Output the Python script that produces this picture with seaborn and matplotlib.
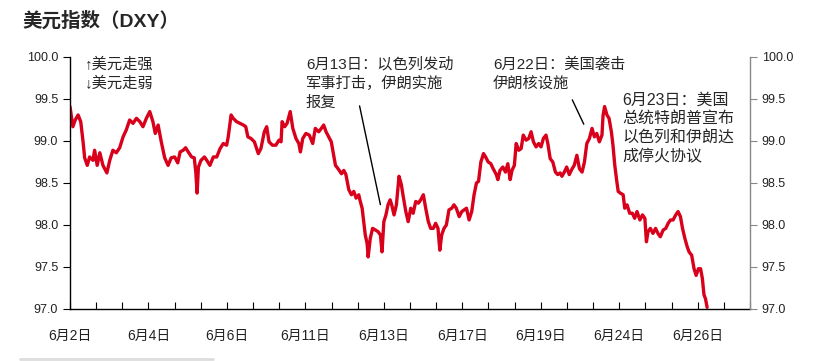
import numpy as np
import pandas as pd
import matplotlib
matplotlib.use("Agg")
import matplotlib.pyplot as plt
from matplotlib.lines import Line2D
import seaborn as sns

# position along the category axis (one unit = one minor tick) and DXY level
t = [0.00, 0.11, 0.20, 0.31, 0.41, 0.50, 0.56, 0.66, 0.75, 0.88,
     0.94, 1.04, 1.14, 1.26, 1.41, 1.52, 1.64, 1.77, 1.90, 2.03,
     2.15, 2.28, 2.41, 2.54, 2.67, 2.79, 2.92, 3.05, 3.17, 3.26,
     3.37, 3.49, 3.62, 3.75, 3.87, 4.00,
     4.12, 4.21, 4.33, 4.42, 4.52, 4.65, 4.75, 4.81, 4.86, 4.91,
     5.01, 5.14, 5.23, 5.35, 5.48, 5.61, 5.74, 5.86, 5.99, 6.05,
     6.16, 6.24, 6.37, 6.50, 6.63, 6.72, 6.80, 6.92, 7.05, 7.20,
     7.30, 7.43, 7.52, 7.61, 7.74, 7.87, 7.99, 8.07,
     8.11, 8.21, 8.30, 8.42, 8.52, 8.64, 8.75, 8.81, 8.90, 9.02,
     9.15, 9.28, 9.38, 9.51, 9.61, 9.70, 9.79, 9.89, 9.99, 10.08,
     10.15, 10.25, 10.38, 10.47, 10.55, 10.66, 10.76, 10.85, 10.94, 11.04,
     11.10, 11.17, 11.23, 11.29, 11.36, 11.40, 11.48, 11.57, 11.68, 11.78,
     11.87, 11.93, 12.00, 12.08, 12.16, 12.24,
     12.30, 12.39, 12.48, 12.58, 12.67, 12.73, 12.84, 12.93, 13.03, 13.12,
     13.22, 13.32, 13.41, 13.51, 13.60, 13.70, 13.79, 13.89, 13.98, 14.07,
     14.14, 14.21, 14.30, 14.39, 14.49, 14.60, 14.68, 14.77, 14.88, 14.98,
     15.07, 15.16, 15.26, 15.36, 15.45, 15.54, 15.62, 15.71, 15.81, 15.89,
     15.99, 16.09, 16.18, 16.30,
     16.36, 16.44, 16.55, 16.65, 16.74, 16.83, 16.90, 16.99, 17.06, 17.16,
     17.25, 17.33, 17.44, 17.54, 17.63, 17.72, 17.82, 17.92, 18.01, 18.10,
     18.20, 18.27, 18.36, 18.46, 18.56, 18.65, 18.74, 18.81, 18.90, 18.99,
     19.09, 19.20, 19.28, 19.38, 19.48, 19.58, 19.67, 19.76, 19.86, 19.96,
     20.05, 20.14, 20.24, 20.34,
     20.38, 20.44, 20.53, 20.61, 20.70, 20.76, 20.83, 20.89, 20.96, 21.04,
     21.15, 21.21, 21.30, 21.40, 21.50, 21.59, 21.68, 21.79, 21.89, 21.98,
     22.04, 22.10, 22.19, 22.29, 22.39, 22.48, 22.57, 22.68, 22.78, 22.87,
     22.96, 23.06, 23.16, 23.25, 23.34, 23.42, 23.51, 23.60, 23.67, 23.77,
     23.86, 23.94, 24.03, 24.11, 24.18, 24.24, 24.30, 24.36]

dxy = [99.41, 99.17, 99.25, 99.31, 99.23, 98.99, 98.80, 98.71, 98.81, 98.77,
       98.89, 98.71, 98.86, 98.71, 98.62, 98.77, 98.89, 98.86, 98.92, 99.05,
       99.13, 99.25, 99.21, 99.27, 99.23, 99.17, 99.27, 99.35, 99.23, 99.09,
       99.19, 98.99, 98.80, 98.71, 98.80, 98.81,
       98.74, 98.87, 98.89, 98.92, 98.87, 98.81, 98.80, 98.63, 98.38, 98.69,
       98.77, 98.81, 98.77, 98.71, 98.81, 98.81, 98.91, 98.97, 98.95, 99.05,
       99.31, 99.27, 99.23, 99.21, 99.19, 99.17, 99.05, 99.03, 98.99, 98.85,
       98.91, 99.11, 99.17, 98.99, 98.95, 98.95, 99.01, 98.99,
       99.23, 99.17, 99.21, 99.35, 99.15, 99.03, 98.97, 98.87, 99.03, 99.09,
       99.07, 98.97, 99.15, 99.11, 99.15, 99.19, 99.11, 99.05, 98.99, 98.83,
       98.71, 98.67, 98.61, 98.65, 98.60, 98.42, 98.36, 98.40, 98.32, 98.36,
       98.28, 98.20, 98.04, 97.88, 97.78, 97.62, 97.84, 97.96, 97.94, 97.92,
       97.88, 97.68, 98.04, 98.12, 98.24, 98.30,
       98.24, 98.12, 98.24, 98.58, 98.48, 98.36, 98.16, 98.04, 98.20, 98.14,
       98.28, 98.26, 98.30, 98.36, 98.20, 98.04, 97.96, 97.96, 98.02, 97.96,
       97.70, 97.88, 97.96, 98.00, 98.18, 98.20, 98.24, 98.20, 98.10, 98.16,
       98.18, 98.20, 98.06, 98.16, 98.36, 98.50, 98.52, 98.75, 98.85, 98.81,
       98.75, 98.73, 98.67, 98.60,
       98.54, 98.65, 98.69, 98.63, 98.73, 98.54, 98.65, 98.71, 98.97, 98.89,
       98.91, 99.07, 99.01, 99.03, 99.11, 98.99, 98.93, 98.97, 98.93, 99.03,
       99.07, 98.97, 98.79, 98.75, 98.63, 98.60, 98.62, 98.58, 98.63, 98.69,
       98.60, 98.67, 98.71, 98.83, 98.67, 98.63, 98.75, 98.97, 99.03, 99.15,
       99.05, 99.09, 98.99, 99.07,
       99.30, 99.41, 99.31, 99.27, 99.11, 98.95, 98.71, 98.56, 98.40, 98.38,
       98.36, 98.20, 98.24, 98.14, 98.14, 98.08, 98.16, 98.06, 98.12, 98.08,
       97.80, 97.92, 97.96, 97.90, 97.96, 97.90, 97.86, 97.94, 97.96, 98.02,
       98.06, 98.06, 98.12, 98.16, 98.10, 97.96, 97.84, 97.74, 97.68, 97.64,
       97.48, 97.40, 97.48, 97.48, 97.36, 97.17, 97.12, 97.02]

date_labels = ["6月2日", "6月4日", "6月6日", "6月11日", "6月13日",
               "6月17日", "6月19日", "6月24日", "6月26日"]
y_ticks = [97.0, 97.5, 98.0, 98.5, 99.0, 99.5, 100.0]

df = pd.DataFrame({"t": t, "dxy": dxy})

sns.set_style("ticks")
fonts = ["Liberation Sans", "Noto Sans CJK SC", "DejaVu Sans"]
plt.rcParams["font.family"] = fonts
plt.rcParams["axes.unicode_minus"] = False

fig = plt.figure(figsize=(8.2, 3.61), dpi=100)
ax = fig.add_axes([70 / 820, 1 - 309 / 361, 680 / 820, 252 / 361])

sns.lineplot(data=df, x="t", y="dxy", ax=ax, color="#D9001B", linewidth=2.4,
             estimator=None, sort=False)

ax.set_xlim(0, 26)
ax.set_ylim(97, 100)
ax.set_xlabel("")
ax.set_ylabel("")

# x axis: minor tick every unit, a date every third tick
ax.set_xticks(np.arange(0, 27, 1))
ax.set_xticklabels([date_labels[i // 3] if i % 3 == 0 and i // 3 < len(date_labels) else ""
                    for i in range(27)], fontsize=10, color="#222222")
ax.tick_params(axis="x", direction="in", length=5, width=0.8, pad=14, color="black")

ax.set_yticks(y_ticks)
ax.set_yticklabels([f"{v:.1f}" for v in y_ticks], fontsize=9, color="#222222")
ax.tick_params(axis="y", direction="out", length=5, width=0.8, color="black")

for s in ["top", "right"]:
    ax.spines[s].set_visible(False)
for s in ["left", "bottom"]:
    ax.spines[s].set_color("black")
    ax.spines[s].set_linewidth(1.0)

# right axis, same scale
ax2 = ax.twinx()
ax2.set_ylim(97, 100)
ax2.set_yticks(y_ticks)
ax2.set_yticklabels([f"{v:.1f}" for v in y_ticks], fontsize=9, color="#222222")
ax2.tick_params(axis="y", direction="out", length=5, width=0.8, color="#888888")
for s in ["top", "left", "bottom"]:
    ax2.spines[s].set_visible(False)
ax2.spines["right"].set_color("#888888")
ax2.spines["right"].set_linewidth(1.0)

# annotations
ax.text(0.57, 99.91, "↑美元走强", fontsize=11, va="center", ha="left")
ax.text(0.57, 99.68, "↓美元走弱", fontsize=11, va="center", ha="left")

ax.text(9.02, 100.0, "6月13日：以色列发动\n军事打击，伊朗实施\n报复",
        fontsize=11, va="top", ha="left", linespacing=1.4)
ax.annotate("", xy=(11.89, 98.21), xytext=(11.05, 99.45),
            arrowprops=dict(arrowstyle="-", color="black", lw=1.0))

ax.text(16.18, 100.0, "6月22日：美国袭击\n伊朗核设施",
        fontsize=11, va="top", ha="left", linespacing=1.4)
ax.annotate("", xy=(19.69, 99.17), xytext=(19.16, 99.52),
            arrowprops=dict(arrowstyle="-", color="black", lw=1.0))

ax.text(21.11, 99.58, "6月23日：美国\n总统特朗普宣布\n以色列和伊朗达\n成停火协议",
        fontsize=11.5, va="top", ha="left", linespacing=1.32)

fig.text(22 / 820, 1 - 21 / 361, "美元指数（DXY）", fontsize=14, fontweight="bold",
         va="center", ha="left", family=fonts)

fig.add_artist(Line2D([20 / 820, 213 / 820], [2 / 361, 2 / 361], color="#dddddd", lw=2))

fig.savefig("out.png", dpi=100)
